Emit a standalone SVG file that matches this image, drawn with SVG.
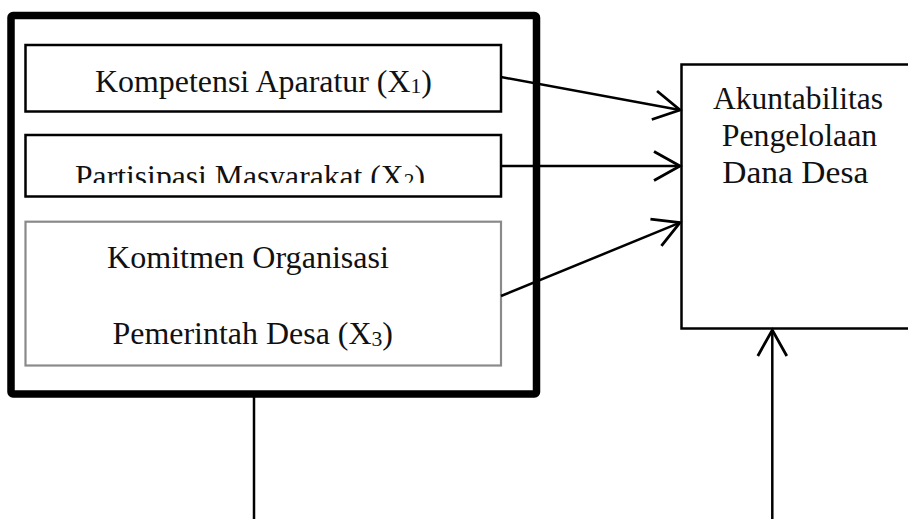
<svg xmlns="http://www.w3.org/2000/svg" width="908" height="519" viewBox="0 0 908 519">
  <style>
    .box { fill: #ffffff; stroke: #000000; stroke-width: 2.5; }
    .gbox { fill: #ffffff; stroke: #8a8a8a; stroke-width: 2.2; }
    .outer { fill: none; stroke: #000000; stroke-width: 7.5; }
    .lbl { font-family: "Liberation Serif", "Times New Roman", serif; font-size: 31px; fill: #111111; }
    .sub { font-size: 21px; }
    .conn { stroke: #000000; stroke-width: 2.5; fill: none; }
  </style>
  <defs>
    <marker id="open" markerUnits="userSpaceOnUse" markerWidth="40" markerHeight="40" viewBox="-30 -20 40 40" refX="0" refY="0" orient="auto">
      <path d="M-26,-14.5 L0,0 L-26,14.5" fill="none" stroke="#000000" stroke-width="2.8"/>
    </marker>
    <clipPath id="clip2">
      <rect x="27" y="137" width="472" height="46"/>
    </clipPath>
  </defs>
  <rect width="908" height="519" fill="#ffffff"/>

  <g id="group-x">
    <rect class="outer" x="11" y="15.5" width="525.5" height="378.5" rx="2"/>
  </g>

  <g id="node-x1">
    <rect class="box" x="25.5" y="45" width="475.5" height="66.5"/>
    <text class="lbl" x="95" y="91.7" textLength="337" lengthAdjust="spacingAndGlyphs">Kompetensi Aparatur (X<tspan class="sub" dy="1.5">1</tspan><tspan dy="-1.5">)</tspan></text>
  </g>

  <g id="node-x2">
    <rect class="box" x="25.5" y="135" width="475.5" height="61.5"/>
    <g clip-path="url(#clip2)">
      <text class="lbl" x="75" y="186.7" textLength="350" lengthAdjust="spacingAndGlyphs">Partisipasi Masyarakat (X<tspan class="sub" dy="1.5">2</tspan><tspan dy="-1.5">)</tspan></text>
    </g>
  </g>

  <g id="node-x3">
    <rect class="gbox" x="25.5" y="221.7" width="475.5" height="143.8"/>
    <text class="lbl" x="107" y="268" textLength="282" lengthAdjust="spacingAndGlyphs">Komitmen Organisasi</text>
    <text class="lbl" x="112.5" y="344" textLength="280.5" lengthAdjust="spacingAndGlyphs">Pemerintah Desa (X<tspan class="sub" dy="1.5">3</tspan><tspan dy="-1.5">)</tspan></text>
  </g>

  <g id="node-y">
    <rect class="box" x="681.5" y="64.5" width="234" height="264"/>
    <text class="lbl" x="713" y="109" textLength="170" lengthAdjust="spacingAndGlyphs">Akuntabilitas</text>
    <text class="lbl" x="721.7" y="146" textLength="155.6" lengthAdjust="spacingAndGlyphs">Pengelolaan</text>
    <text class="lbl" x="722.3" y="183" textLength="146" lengthAdjust="spacingAndGlyphs">Dana Desa</text>
  </g>

  <g id="connectors">
    <line class="conn" x1="501" y1="77" x2="680" y2="110" marker-end="url(#open)"/>
    <line class="conn" x1="501" y1="166" x2="680" y2="166" marker-end="url(#open)"/>
    <line class="conn" x1="501" y1="296" x2="680" y2="222.7" marker-end="url(#open)"/>
    <line class="conn" x1="254" y1="397" x2="254" y2="519"/>
    <line class="conn" x1="772.3" y1="519" x2="772.3" y2="330" marker-end="url(#open)"/>
  </g>
</svg>
